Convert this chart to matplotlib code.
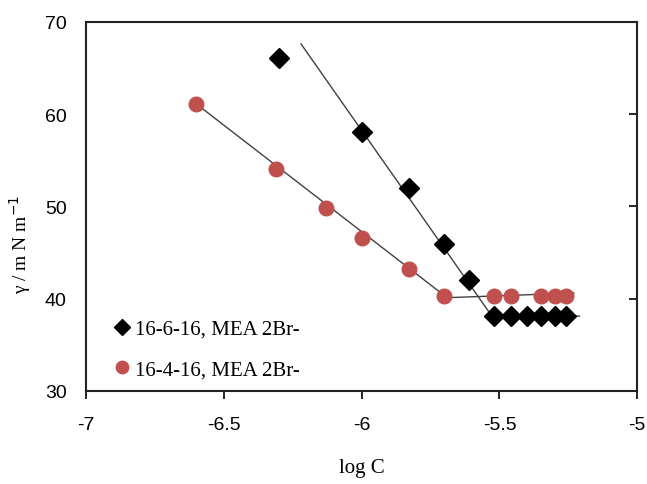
import numpy as np
import matplotlib
matplotlib.use("Agg")
import matplotlib.pyplot as plt

# 16-6-16, MEA 2Br- (diamonds)
logc_6 = [-6.30, -6.00, -5.83, -5.70, -5.61, -5.52, -5.46, -5.40, -5.35, -5.30, -5.26]
gamma_6 = [66.1, 58.1, 52.0, 45.9, 42.0, 38.1, 38.1, 38.1, 38.1, 38.1, 38.1]

# 16-4-16, MEA 2Br- (circles)
logc_4 = [-6.60, -6.31, -6.13, -6.00, -5.83, -5.70, -5.52, -5.46, -5.35, -5.30, -5.26]
gamma_4 = [61.1, 54.1, 49.8, 46.6, 43.2, 40.3, 40.3, 40.3, 40.3, 40.3, 40.3]

# trend lines (x, y)
fit_6_x = [-6.22, -5.53, -5.21]
fit_6_y = [67.6, 38.2, 38.1]
fit_4_x = [-6.60, -5.69, -5.23]
fit_4_y = [61.1, 40.1, 40.6]

fig = plt.figure(figsize=(6.47, 4.85), dpi=100)
ax = fig.add_axes([0.133, 0.192, 0.852, 0.761])

ax.plot(fit_6_x, fit_6_y, color="#404040", lw=1.0, zorder=2)
ax.plot(fit_4_x, fit_4_y, color="#404040", lw=1.0, zorder=2)
ax.plot(logc_6, gamma_6, "D", color="black", ms=10, ls="none",
        label="16-6-16, MEA 2Br-", zorder=3)
ax.plot(logc_4, gamma_4, "o", color="#C0504D", ms=10.5, ls="none",
        label="16-4-16, MEA 2Br-", zorder=3)

ax.set_xlim(-7, -5)
ax.set_ylim(30, 70)
ax.set_xticks([-7, -6.5, -6, -5.5, -5])
ax.set_xticklabels(["-7", "-6.5", "-6", "-5.5", "-5"])
ax.set_yticks([30, 40, 50, 60, 70])

for s in ax.spines.values():
    s.set_linewidth(1.5)
    s.set_color("#222222")

ax.tick_params(axis="x", direction="out", length=6, width=1.2, pad=12,
               labelsize=14, labelfontfamily="Liberation Sans")
ax.tick_params(axis="y", left=False, right=True, labelleft=True, labelright=False,
               direction="in", length=6, width=1.2, pad=14,
               labelsize=14, labelfontfamily="Liberation Sans")

ax.set_xlabel("log C", family="Liberation Serif", fontsize=15, labelpad=18)
ax.set_ylabel("γ / m N m$^{-1}$", family="Liberation Serif", fontsize=14)
ax.yaxis.set_label_coords(-0.12, 0.40)
ax.yaxis.label.set_verticalalignment("center")

leg = ax.legend(loc="lower left", bbox_to_anchor=(0.025, 0.0), frameon=False,
                prop={"family": "Liberation Serif", "size": 15},
                handletextpad=0.15, handlelength=1.0, labelspacing=1.0,
                borderaxespad=0.15, markerscale=0.85)

fig.savefig("out.png", dpi=100)
